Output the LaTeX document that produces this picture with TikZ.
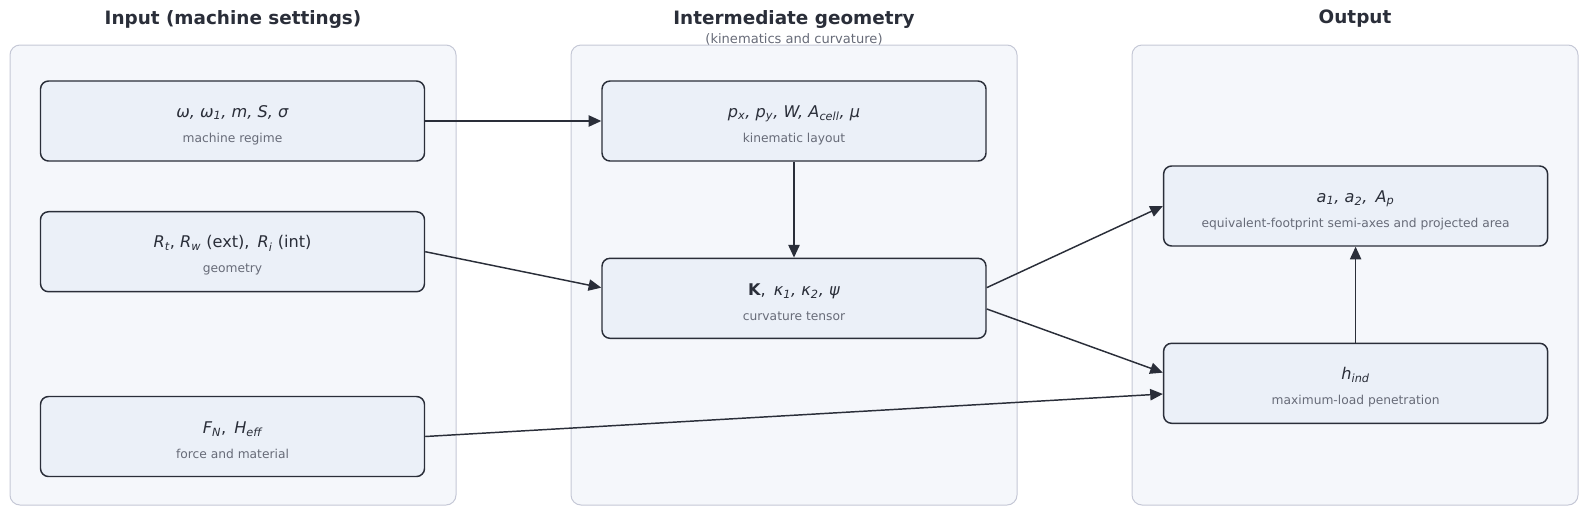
\documentclass[tikz,border=0pt]{standalone}
\usepackage{fontspec}
\setmainfont{DejaVu Sans}
\usetikzlibrary{arrows.meta}

\definecolor{ink}{HTML}{2A2E39}
\definecolor{muted}{HTML}{676B78}
\definecolor{panelfill}{HTML}{F5F7FB}
\definecolor{panelline}{HTML}{C5C8D6}
\definecolor{boxfill}{HTML}{EBF0F8}

\newcommand{\lo}[1]{\textsubscript{#1}}
\newcommand{\topgap}{\rule{0pt}{15pt}}
\newcommand{\subfont}{\fontsize{9.2}{11}\selectfont\color{muted}}

\begin{document}
\begin{tikzpicture}[x=0.75pt,y=-0.75pt,
        panel/.style={draw=panelline,fill=panelfill,line width=0.75pt,
            rounded corners=7.5pt,minimum width=334.5pt,minimum height=345pt},
        title/.style={font=\fontsize{13.8}{16}\selectfont\bfseries,text=ink},
        stage/.style={draw=ink,fill=boxfill,line width=1.1pt,rounded corners=6pt,
            minimum width=288pt,minimum height=60pt,align=center,text=ink,
            font=\fontsize{12.1}{14}\selectfont},
        flow/.style={-{Triangle[length=9.5pt,width=8.5pt]},draw=ink,line width=1.1pt}]
\useasboundingbox (0,0) rectangle (1588,515);

% columns
\node[panel] (inpanel) at (233,275) {};
\node[panel] (midpanel) at (794,275) {};
\node[panel] (outpanel) at (1355,275) {};
\node[title] (intitle) at (233,19) {Input (machine settings)};
\node[title] (midtitle) at (794,19) {Intermediate geometry};
\node[font=\fontsize{9.8}{11}\selectfont,text=muted] (midsub) at (794,39.5) {(kinematics and curvature)};
\node[title] (outtitle) at (1355,19) {Output};

% boxes
\node[stage] (regime) at (232.5,121) {\topgap\textit{ω, ω\lo{1}, m, S, σ}\\[4.75pt]{\subfont machine regime}};
\node[stage] (geom) at (232.5,251.7) {\topgap\textit{R\lo{t}}, \textit{R\lo{w}} (ext),\enspace\textit{R\lo{i}} (int)\\[4.75pt]{\subfont geometry}};
\node[stage] (force) at (232.5,436.5) {\topgap\textit{F\lo{N}},\enspace\textit{H\lo{eff}}\\[4.75pt]{\subfont force and material}};
\node[stage] (kin) at (794,121) {\topgap\textit{p\lo{x}, p\lo{y}, W, A\lo{cell}, μ}\\[4.75pt]{\subfont kinematic layout}};
\node[stage] (curv) at (794,298.3) {\topgap\textbf{K},\enspace\textit{κ\lo{1}, κ\lo{2}, ψ}\\[4.75pt]{\subfont curvature tensor}};
\node[stage] (foot) at (1355.6,206) {\topgap\textit{a\lo{1}, a\lo{2},}\enspace\textit{A\lo{p}}\\[4.75pt]{\subfont equivalent-footprint semi-axes and projected area}};
\node[stage] (pen) at (1355.6,383.3) {\topgap\textit{h\lo{ind}}\\[4.75pt]{\subfont maximum-load penetration}};

% connectors
\draw[flow] (regime) -- (kin);
\draw[flow] (geom.east) -- ([yshift=8pt]curv.west);
\draw[flow] (force.east) -- ([yshift=-8pt]pen.west);
\draw[flow] (kin) -- (curv);
\draw[flow] ([yshift=8pt]curv.east) -- (foot.west);
\draw[flow] ([yshift=-8pt]curv.east) -- ([yshift=8pt]pen.west);
\draw[flow] (pen) -- (foot);

\end{tikzpicture}
\end{document}
